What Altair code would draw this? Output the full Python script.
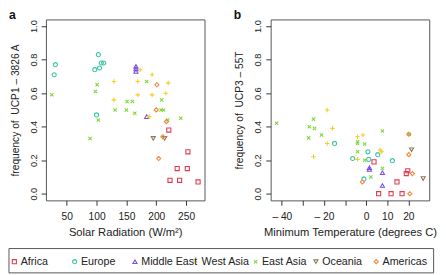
import altair as alt
import pandas as pd

# ---------------- data ----------------
regions = ["Africa", "Europe", "Middle East", "West Asia", "East Asia", "Oceania", "Americas"]

# panel a: solar radiation (W/m^2) vs frequency of UCP1-3826A
africa_solar = [221, 253, 235, 252, 223, 239, 270]
africa_ucp1 = [0.38, 0.25, 0.15, 0.15, 0.08, 0.08, 0.07]
europe_solar = [31, 29, 103, 105, 97, 108, 112, 100]
europe_ucp1 = [0.77, 0.71, 0.83, 0.75, 0.74, 0.78, 0.78, 0.47]
mideast_solar = [166, 166, 166, 184]
mideast_ucp1 = [0.76, 0.745, 0.73, 0.46]
westasia_solar = [129, 129, 173, 193, 169, 220, 169, 193, 216, 188]
westasia_ucp1 = [0.67, 0.56, 0.74, 0.71, 0.67, 0.66, 0.59, 0.59, 0.60, 0.46]
eastasia_solar = [25, 101, 98, 103, 89, 131, 150, 151, 160, 164, 184, 209, 208, 212, 219, 241]
eastasia_ucp1 = [0.59, 0.65, 0.61, 0.44, 0.33, 0.50, 0.50, 0.55, 0.55, 0.48, 0.67, 0.56, 0.50, 0.50, 0.44, 0.45]
oceania_solar = [195, 214]
oceania_ucp1 = [0.33, 0.33]
americas_solar = [201, 200, 217, 211, 204]
americas_ucp1 = [0.65, 0.50, 0.43, 0.34, 0.21]

# panel b: minimum temperature (degrees C) vs frequency of UCP3-55T
africa_temp = [3.7, 14.6, 19.0, 19.7, 5.9, 11.8, 17.0]
africa_ucp3 = [0.19, 0.07, 0.12, 0.137, 0.0, 0.0, 0.0]
europe_temp = [-15, -6.4, 0.8, 5.5, 1.2, 12.4, -1.1]
europe_ucp3 = [0.30, 0.21, 0.25, 0.233, 0.205, 0.197, 0.088]
mideast_temp = [1.5, 1.5, 7.7, 7.7]
mideast_ucp3 = [0.155, 0.145, 0.125, 0.049]
westasia_temp = [-18.5, -16, -18.5, -25, -4.1, -1.5, -4.1, 6.6, 7.4]
westasia_ucp3 = [0.50, 0.39, 0.30, 0.22, 0.34, 0.35, 0.205, 0.26, 0.25]
eastasia_temp = [-42.5, -25, -27, -24.5, -27.3, -21.2, -4.1, -4.1, -4.1, -0.7, 7.7, -0.7, 7.7, 2.2, 20.3]
eastasia_ucp3 = [0.42, 0.445, 0.40, 0.39, 0.333, 0.35, 0.31, 0.30, 0.25, 0.297, 0.374, 0.20, 0.15, 0.10, 0.355]
oceania_temp = [21.5, 27.0]
oceania_ucp3 = [0.262, 0.09]
americas_temp = [20.2, 20.2, 21.9, -1.8, 20.7]
americas_ucp3 = [0.355, 0.233, 0.12, 0.07, 0.0]

y_ticks = [0.0, 0.2, 0.4, 0.6, 0.8, 1.0]
solar_ticks = [50, 100, 150, 200, 250]
temp_ticks = [-40, -30, -20, -10, 0, 10, 20]

# ---------------- styling ----------------
colors = ["#E33A4F", "#36C5A4", "#7B52E3", "#F2D024", "#7ED93A", "#8F7B55", "#F0883A"]
shapes = ["square", "circle", "triangle-up",
          "M-1.1,0L1.1,0M0,-1.1L0,1.1",
          "M-0.8,-0.8L0.8,0.8M-0.8,0.8L0.8,-0.8",
          "triangle-down", "diamond"]
NARROW = "Liberation Sans Narrow, Liberation Sans, Arial, sans-serif"
REG = "Liberation Sans, Arial, sans-serif"
TXT = "#222222"
BOX = "#555555"

color_scale = alt.Scale(domain=regions, range=colors)
shape_scale = alt.Scale(domain=regions, range=shapes)


def build(pairs):
    rows = []
    for reg, xs, ys in pairs:
        for xv, yv in zip(xs, ys):
            rows.append({"region": reg, "x": xv, "y": yv})
    return pd.DataFrame(rows)


df_a = build([
    ("Africa", africa_solar, africa_ucp1), ("Europe", europe_solar, europe_ucp1),
    ("Middle East", mideast_solar, mideast_ucp1), ("West Asia", westasia_solar, westasia_ucp1),
    ("East Asia", eastasia_solar, eastasia_ucp1), ("Oceania", oceania_solar, oceania_ucp1),
    ("Americas", americas_solar, americas_ucp1),
])
df_b = build([
    ("Africa", africa_temp, africa_ucp3), ("Europe", europe_temp, europe_ucp3),
    ("Middle East", mideast_temp, mideast_ucp3), ("West Asia", westasia_temp, westasia_ucp3),
    ("East Asia", eastasia_temp, eastasia_ucp3), ("Oceania", oceania_temp, oceania_ucp3),
    ("Americas", americas_temp, americas_ucp3),
])


def panel(df, xdomain, xticks, xtitle, ytitle, letter, label_expr=None):
    xaxis_kw = dict(values=xticks, title=xtitle, tickSize=5, tickColor="#333333",
                    domain=False, grid=False, labelPadding=7, titlePadding=5,
                    labelFont=NARROW, labelFontSize=10.5, labelColor=TXT,
                    titleFont=NARROW, titleFontSize=11.5, titleFontWeight="normal",
                    titleColor=TXT, labelFlush=False, labelOverlap=False)
    if label_expr:
        xaxis_kw["labelExpr"] = label_expr
    yaxis = alt.Axis(values=y_ticks, format=".1f", title=ytitle, tickSize=5,
                     tickColor="#333333", domain=False, grid=False,
                     labelAngle=-90, labelAlign="center", labelBaseline="alphabetic",
                     labelPadding=5, titlePadding=8.5, labelFont=REG, labelFontSize=9.5,
                     labelColor=TXT, titleFont=REG, titleFontSize=10.5,
                     titleFontWeight="normal", titleColor=TXT, labelFlush=False,
                     labelOverlap=False)
    pts = alt.Chart(df).mark_point(filled=False, opacity=1, size=18, strokeWidth=1.1).encode(
        x=alt.X("x:Q", scale=alt.Scale(domain=xdomain, nice=False, zero=False),
                axis=alt.Axis(**xaxis_kw)),
        y=alt.Y("y:Q", scale=alt.Scale(domain=[-0.04, 1.04], nice=False, zero=False),
                axis=yaxis),
        color=alt.Color("region:N", scale=color_scale, legend=None),
        shape=alt.Shape("region:N", scale=shape_scale, legend=None),
    )
    lab = alt.Chart(pd.DataFrame({"t": [letter]})).mark_text(
        align="left", baseline="alphabetic", font=REG, fontSize=12.5,
        fontWeight="bold", color="#111111"
    ).encode(text="t:N", x=alt.value(-38), y=alt.value(0))
    return alt.layer(pts, lab).properties(width=163, height=186)


panel_a = panel(df_a, [15.2, 280.8], solar_ticks, "Solar Radiation (W/m²)",
                "frequency of\u00a0 UCP1 \u2013 3826 A", "a")
panel_b = panel(df_b, [-45.3, 29.9], temp_ticks, "Minimum Temperature (degrees C)",
                "frequency of\u00a0 UCP3 \u2013 55T", "b",
                label_expr="datum.value == -30 || datum.value == -10 ? '' : "
                           "(datum.value < 0 ? '\u2013 ' + abs(datum.value) : datum.label)")

# ---------------- legend ----------------
# the legend view starts where panel a's plot starts (38px right of the y title);
# its box is drawn from the far left of the figure.
leg_df = pd.DataFrame({"region": regions, "idx": list(range(len(regions)))})
leg_x = alt.X("idx:Q", scale=alt.Scale(domain=[0.524, 6.96], nice=False, zero=False), axis=None)
leg_box = alt.Chart(pd.DataFrame({"box": [1]})).mark_rect(
    fillOpacity=0, stroke=BOX, strokeWidth=1
).encode(x=alt.value(-38), x2=alt.value(398.5), y=alt.value(0), y2=alt.value(25))
leg_pts = alt.Chart(leg_df).mark_point(filled=False, opacity=1, size=18, strokeWidth=1.1).encode(
    x=leg_x, y=alt.value(13.5),
    color=alt.Color("region:N", scale=color_scale, legend=None),
    shape=alt.Shape("region:N", scale=shape_scale, legend=None),
)
leg_txt = alt.Chart(leg_df).mark_text(align="left", baseline="middle", dx=6.5, font=NARROW,
                                      fontSize=11, color=TXT).encode(
    x=leg_x, y=alt.value(13.5), text="region:N")
legend = alt.layer(leg_box, leg_pts, leg_txt).properties(
    width=399, height=25, view=alt.ViewBackground(stroke="transparent"))

top = alt.hconcat(panel_a, panel_b, spacing=28)
chart = alt.vconcat(top, legend, spacing=8.5).properties(
    padding={"left": 0, "top": -3, "right": 0, "bottom": 0},
    background="white",
).configure_view(stroke=BOX, strokeWidth=1)

chart.save("out.html", embed_options={"renderer": "svg", "actions": False})
